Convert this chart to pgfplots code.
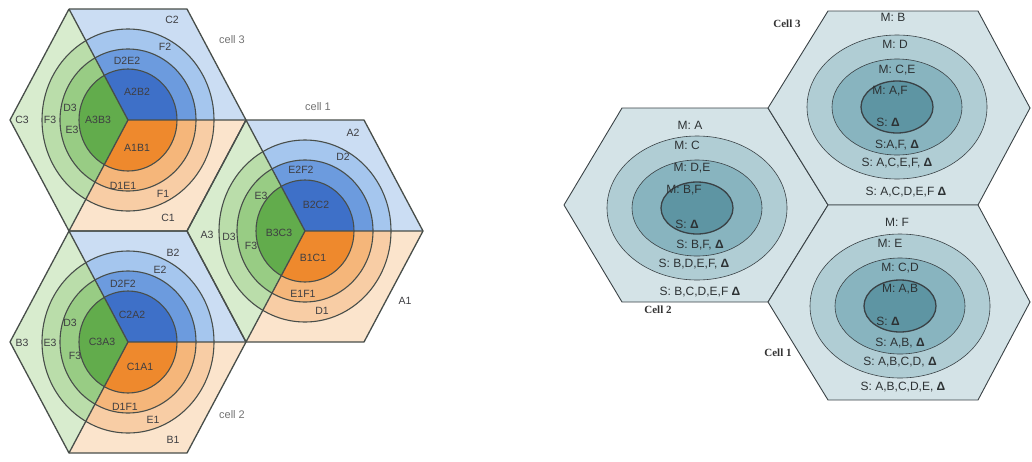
\documentclass[border=0pt]{standalone}
\usepackage{fontspec}
\setmainfont{Liberation Sans}
\newfontfamily\serifb{Liberation Serif}
\usepackage{pgfplots}
\pgfplotsset{compat=1.18}

% left diagram colours: A = inner disc, B = first ring, C = second ring, D = rest of sector
\definecolor{bA}{RGB}{62,112,200}
\definecolor{bB}{RGB}{108,155,222}
\definecolor{bC}{RGB}{165,198,238}
\definecolor{bD}{RGB}{203,221,243}
\definecolor{oA}{RGB}{238,137,45}
\definecolor{oB}{RGB}{245,182,122}
\definecolor{oC}{RGB}{248,205,165}
\definecolor{oD}{RGB}{251,228,204}
\definecolor{gA}{RGB}{98,172,76}
\definecolor{gB}{RGB}{152,204,132}
\definecolor{gC}{RGB}{186,221,170}
\definecolor{gD}{RGB}{216,236,206}
\definecolor{edge}{RGB}{72,78,74}
\definecolor{labc}{RGB}{62,62,66}
% right diagram colours
\definecolor{hexbg}{RGB}{212,227,231}
\definecolor{e1}{RGB}{176,205,212}
\definecolor{e2}{RGB}{136,180,191}
\definecolor{e3}{RGB}{94,149,163}
\definecolor{redge}{RGB}{58,66,70}
\definecolor{rtxt}{RGB}{45,50,52}

\tikzset{
    lab/.style={font=\fontsize{10.5}{12}\selectfont, text=labc, inner sep=0pt},
    rlab/.style={font=\fontsize{12}{14}\selectfont, text=rtxt, inner sep=0pt},
    cell/.style={font=\serifb\bfseries\fontsize{11}{13}\selectfont, text=black!80, inner sep=0pt},
}

\newcommand{\discs}[4]{%
  \fill[#2] (axis cs:#1) ellipse[x radius=86pt,y radius=91pt];
  \fill[#3] (axis cs:#1) ellipse[x radius=68pt,y radius=71pt];
  \fill[#4] (axis cs:#1) ellipse[x radius=49pt,y radius=51pt];}
\newcommand{\rings}[1]{%
  \draw[edge,line width=1.1pt] (axis cs:#1) ellipse[x radius=86pt,y radius=91pt];
  \draw[edge,line width=1.1pt] (axis cs:#1) ellipse[x radius=68pt,y radius=71pt];
  \draw[edge,line width=1.1pt] (axis cs:#1) ellipse[x radius=49pt,y radius=51pt];}
\newcommand{\ovals}[1]{%
  \draw[redge,fill=e1,line width=0.6pt] (axis cs:#1) ellipse[x radius=90pt,y radius=72pt];
  \draw[redge,fill=e2,line width=0.6pt] (axis cs:#1) ellipse[x radius=65pt,y radius=48pt];
  \draw[redge,fill=e3,line width=1.3pt] (axis cs:#1) ellipse[x radius=36pt,y radius=26pt];}
\newcommand{\tri}{{\bfseries Δ}}

\begin{document}
\begin{tikzpicture}
\begin{axis}[
    x=1pt, y=1pt,
    xmin=0, xmax=1032, ymin=0, ymax=461,
    y dir=reverse,
    hide axis, clip=false,
]
\path (axis cs:0,0) rectangle (axis cs:1032,461);

% ---------------- left: sectors (outer colour) ----------------
% cell 3, centre (128,120)
\addplot[draw=none, fill=bD] coordinates {(128,120) (69,9) (187,9) (246,120)} -- cycle;
\addplot[draw=none, fill=oD] coordinates {(128,120) (246,120) (187,231) (69,231)} -- cycle;
\addplot[draw=none, fill=gD] coordinates {(128,120) (69,231) (10,120) (69,9)} -- cycle;
% cell 2, centre (128,342)
\addplot[draw=none, fill=bD] coordinates {(128,342) (69,231) (187,231) (246,342)} -- cycle;
\addplot[draw=none, fill=oD] coordinates {(128,342) (246,342) (187,453) (69,453)} -- cycle;
\addplot[draw=none, fill=gD] coordinates {(128,342) (69,453) (10,342) (69,231)} -- cycle;
% cell 1, centre (305,231)
\addplot[draw=none, fill=bD] coordinates {(305,231) (246,120) (364,120) (423,231)} -- cycle;
\addplot[draw=none, fill=oD] coordinates {(305,231) (423,231) (364,342) (246,342)} -- cycle;
\addplot[draw=none, fill=gD] coordinates {(305,231) (246,342) (187,231) (246,120)} -- cycle;

% discs clipped to each sector
\begin{scope}\clip (axis cs:128,120) -- (axis cs:69,9) -- (axis cs:187,9) -- (axis cs:246,120) -- cycle;
\discs{128,120}{bC}{bB}{bA}\end{scope}
\begin{scope}\clip (axis cs:128,120) -- (axis cs:246,120) -- (axis cs:187,231) -- (axis cs:69,231) -- cycle;
\discs{128,120}{oC}{oB}{oA}\end{scope}
\begin{scope}\clip (axis cs:128,120) -- (axis cs:69,231) -- (axis cs:10,120) -- (axis cs:69,9) -- cycle;
\discs{128,120}{gC}{gB}{gA}\end{scope}
\begin{scope}\clip (axis cs:128,342) -- (axis cs:69,231) -- (axis cs:187,231) -- (axis cs:246,342) -- cycle;
\discs{128,342}{bC}{bB}{bA}\end{scope}
\begin{scope}\clip (axis cs:128,342) -- (axis cs:246,342) -- (axis cs:187,453) -- (axis cs:69,453) -- cycle;
\discs{128,342}{oC}{oB}{oA}\end{scope}
\begin{scope}\clip (axis cs:128,342) -- (axis cs:69,453) -- (axis cs:10,342) -- (axis cs:69,231) -- cycle;
\discs{128,342}{gC}{gB}{gA}\end{scope}
\begin{scope}\clip (axis cs:305,231) -- (axis cs:246,120) -- (axis cs:364,120) -- (axis cs:423,231) -- cycle;
\discs{305,231}{bC}{bB}{bA}\end{scope}
\begin{scope}\clip (axis cs:305,231) -- (axis cs:423,231) -- (axis cs:364,342) -- (axis cs:246,342) -- cycle;
\discs{305,231}{oC}{oB}{oA}\end{scope}
\begin{scope}\clip (axis cs:305,231) -- (axis cs:246,342) -- (axis cs:187,231) -- (axis cs:246,120) -- cycle;
\discs{305,231}{gC}{gB}{gA}\end{scope}

\rings{128,120}
\rings{128,342}
\rings{305,231}

% sector lines and hexagon borders
\addplot[edge, line width=1.3pt] coordinates {(69,9) (128,120) (246,120)};
\addplot[edge, line width=1.3pt] coordinates {(128,120) (69,231)};
\addplot[edge, line width=1.3pt] coordinates {(69,231) (128,342) (246,342)};
\addplot[edge, line width=1.3pt] coordinates {(128,342) (69,453)};
\addplot[edge, line width=1.3pt] coordinates {(246,120) (305,231) (423,231)};
\addplot[edge, line width=1.3pt] coordinates {(305,231) (246,342)};
\addplot[edge, line width=1.3pt] coordinates {(69,9) (187,9) (246,120) (187,231) (69,231) (10,120) (69,9)};
\addplot[edge, line width=1.3pt] coordinates {(69,231) (187,231) (246,342) (187,453) (69,453) (10,342) (69,231)};
\addplot[edge, line width=1.3pt] coordinates {(187,231) (246,120) (364,120) (423,231) (364,342) (246,342) (187,231)};

% labels, cell 3
\node[lab, text=black!55, font=\fontsize{11}{13}\selectfont] at (axis cs:232,40) {cell 3};
\node[lab] at (axis cs:172,20) {C2};
\node[lab] at (axis cs:165,47) {F2};
\node[lab] at (axis cs:127,61) {D2E2};
\node[lab] at (axis cs:137,92) {A2B2};
\node[lab] at (axis cs:98,120) {A3B3};
\node[lab] at (axis cs:70,108) {D3};
\node[lab] at (axis cs:72,130) {E3};
\node[lab] at (axis cs:50,120) {F3};
\node[lab] at (axis cs:22,120) {C3};
\node[lab] at (axis cs:137,148) {A1B1};
\node[lab] at (axis cs:123,186) {D1E1};
\node[lab] at (axis cs:163,194) {F1};
\node[lab] at (axis cs:168,218) {C1};
% labels, cell 2
\node[lab, text=black!55, font=\fontsize{11}{13}\selectfont] at (axis cs:232,415) {cell 2};
\node[lab] at (axis cs:173,253) {B2};
\node[lab] at (axis cs:160,270) {E2};
\node[lab] at (axis cs:123,284) {D2F2};
\node[lab] at (axis cs:132,315) {C2A2};
\node[lab] at (axis cs:102,342) {C3A3};
\node[lab] at (axis cs:70,323) {D3};
\node[lab] at (axis cs:50,343) {E3};
\node[lab] at (axis cs:75,356) {F3};
\node[lab] at (axis cs:22,343) {B3};
\node[lab] at (axis cs:140,367) {C1A1};
\node[lab] at (axis cs:125,407) {D1F1};
\node[lab] at (axis cs:153,420) {E1};
\node[lab] at (axis cs:173,440) {B1};
% labels, cell 1
\node[lab, text=black!55, font=\fontsize{11}{13}\selectfont] at (axis cs:318,107) {cell 1};
\node[lab] at (axis cs:353,133) {A2};
\node[lab] at (axis cs:343,157) {D2};
\node[lab] at (axis cs:301,170) {E2F2};
\node[lab] at (axis cs:316,205) {B2C2};
\node[lab] at (axis cs:279,233) {B3C3};
\node[lab] at (axis cs:261,196) {E3};
\node[lab] at (axis cs:207,235) {A3};
\node[lab] at (axis cs:229,237) {D3};
\node[lab] at (axis cs:251,246) {F3};
\node[lab] at (axis cs:313,258) {B1C1};
\node[lab] at (axis cs:303,294) {E1F1};
\node[lab] at (axis cs:322,311) {D1};
\node[lab] at (axis cs:405,301) {A1};

% ---------------- right: hexagons with ovals ----------------
\addplot[redge, fill=hexbg, line width=0.9pt] coordinates {(564,205) (622,108) (768,108) (828,205) (768,302) (622,302) (564,205)};
\addplot[redge, fill=hexbg, line width=0.9pt] coordinates {(768,108) (828,11) (978,11) (1030,108) (978,205) (828,205) (768,108)};
\addplot[redge, fill=hexbg, line width=0.9pt] coordinates {(768,302) (828,205) (978,205) (1030,302) (978,400) (828,400) (768,302)};
\ovals{697,208}
\ovals{897,107}
\ovals{900,306}

% cell 2
\node[rlab] at (axis cs:690,125) {M: A};
\node[rlab] at (axis cs:687,145) {M: C};
\node[rlab] at (axis cs:692,168) {M: D,E};
\node[rlab] at (axis cs:684,190) {M: B,F};
\node[rlab] at (axis cs:687,224) {S: \tri};
\node[rlab] at (axis cs:700,245) {S: B,F, \tri};
\node[rlab] at (axis cs:694,264) {S: B,D,E,F, \tri};
\node[rlab] at (axis cs:700,292) {S: B,C,D,E,F \tri};
\node[cell] at (axis cs:658,310) {Cell 2};
% cell 3
\node[rlab] at (axis cs:893,17) {M: B};
\node[rlab] at (axis cs:895,44) {M: D};
\node[rlab] at (axis cs:897,70) {M: C,E};
\node[rlab] at (axis cs:890,91) {M: A,F};
\node[rlab] at (axis cs:888,122) {S: \tri};
\node[rlab] at (axis cs:897,145) {S:A,F, \tri};
\node[rlab] at (axis cs:897,163) {S: A,C,E,F, \tri};
\node[rlab] at (axis cs:906,192) {S: A,C,D,E,F \tri};
\node[cell] at (axis cs:787,24) {Cell 3};
% cell 1
\node[rlab] at (axis cs:897,222) {M: F};
\node[rlab] at (axis cs:890,243) {M: E};
\node[rlab] at (axis cs:900,268) {M: C,D};
\node[rlab] at (axis cs:900,289) {M: A,B};
\node[rlab] at (axis cs:888,321) {S: \tri};
\node[rlab] at (axis cs:900,343) {S: A,B, \tri};
\node[rlab] at (axis cs:900,362) {S: A,B,C,D, \tri};
\node[rlab] at (axis cs:903,387) {S: A,B,C,D,E, \tri};
\node[cell] at (axis cs:778,353) {Cell 1};
\end{axis}
\end{tikzpicture}
\end{document}
